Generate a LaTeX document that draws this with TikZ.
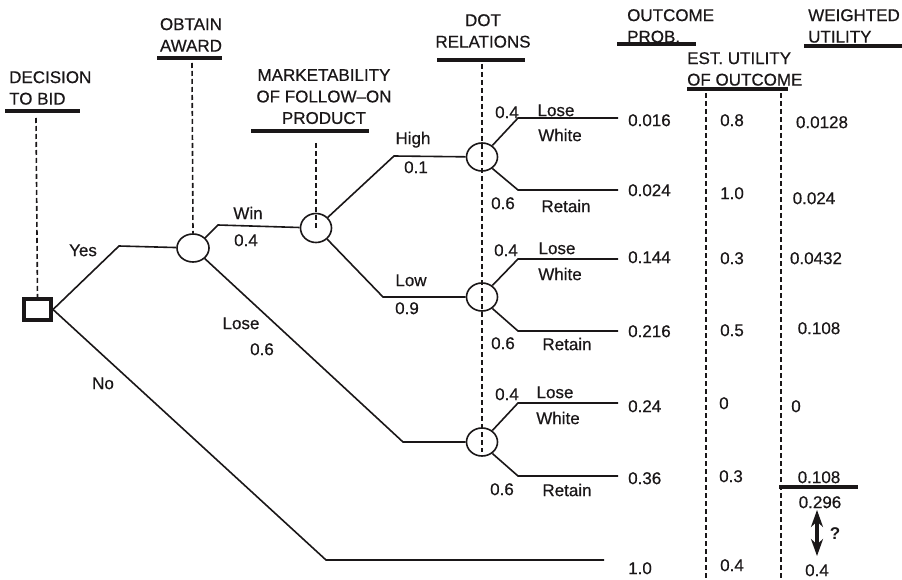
\documentclass[tikz,border=0pt]{standalone}
\usepackage{fontspec}
\setmainfont{Liberation Sans}[UprightFeatures={FakeBold=0.5}]
\usetikzlibrary{arrows.meta,shapes.geometric}
\definecolor{ink}{HTML}{1A1718}

\begin{document}
\begin{tikzpicture}[x=1pt,y=-1pt,
  every node/.style={font=\fontsize{17pt}{21.5pt}\selectfont, text=ink, inner sep=0pt},
  val/.style={text height=12.2pt, text depth=0pt},
  head/.style={anchor=north},
  bar/.style={draw=ink, line width=4.5pt},
  branch/.style={draw=ink, line width=1.6pt},
  guide/.style={draw=ink, line width=1.6pt, dash pattern=on 5pt off 3pt},
  chance/.style={shape=ellipse, draw=ink, line width=1.6pt, minimum width=31pt, minimum height=28pt},
  choice/.style={shape=rectangle, draw=ink, line width=4pt, minimum width=27pt, minimum height=21pt}]

\useasboundingbox (0,0) rectangle (902,580);
\fill[white] (0,0) rectangle (902,580);

% ---------- column headings ----------
\node[head, anchor=north west, align=left] (hdec) at (9,71) {DECISION\\TO BID};
\node[head, align=center] (hawd) at (191,18) {OBTAIN\\AWARD};
\node[head, align=center] (hmkt) at (324,69) {MARKETABILITY\\OF FOLLOW–ON\\PRODUCT};
\node[head, align=center] (hdot) at (483,14) {DOT\\RELATIONS};
\node[head, anchor=north west, align=left] (hprob) at (627,9) {OUTCOME\\PROB.};
\node[head, anchor=north west, align=left] (hest) at (687,52) {EST. UTILITY\\OF OUTCOME};
\node[head, anchor=north west, align=left] (hwu) at (808,9) {WEIGHTED\\UTILITY};

% heading bars
\draw[bar] (5,111) -- (80,111);
\draw[bar] (157,58) -- (222,58);
\draw[bar] (251,131) -- (369,131);
\draw[bar] (437,60) -- (525,60);
\draw[bar] (617,44) -- (696,44);
\draw[bar] (687,89) -- (788,89);
\draw[bar] (804,46) -- (902,46);

% ---------- decision and chance nodes ----------
\node[choice] (sq) at (37.5,309.5) {};
\node[chance, minimum width=32pt] (award) at (193,248) {};
\node[chance, minimum height=29pt] (mkt) at (316,228) {};
\node[chance] (d1) at (482,157) {};
\node[chance] (d2) at (482,297) {};
\node[chance] (d3) at (482,442) {};

% ---------- dashed guide lines ----------
\coordinate (gdec) at (36,118);
\coordinate (gawd) at (192,63);
\coordinate (gmkt) at (316,143);
\coordinate (gdot) at (482,64);
\coordinate (gdotend) at (482,452);
\coordinate (gest) at (706,93);
\coordinate (gestend) at (706,580);
\coordinate (gwu) at (781,93);
\coordinate (gwuend) at (781,580);
\draw[guide] (gdec) -- (sq.north);
\draw[guide] (gawd) -- (award.north);
\draw[guide] (gmkt) -- (mkt.center);
\draw[guide] (gdot) -- (gdotend);
\draw[guide] (gest) -- (gestend);
\draw[guide] (gwu) -- (gwuend);

% ---------- branches ----------
\coordinate (yes) at (119,246);
\coordinate (win) at (218,225);
\coordinate (lose) at (403,442);
\coordinate (no) at (326,560);
\coordinate (noend) at (604,560);
\coordinate (high) at (394,156);
\coordinate (low) at (383,297);

\draw[branch] (sq.east) -- (yes) -- (award);
\draw[branch] (sq.east) -- (no) -- (noend);
\draw[branch] (award.40) -- (win) -- (mkt);
\draw[branch] (award.-42) -- (lose) -- (d3);
\draw[branch] (mkt.42) -- (high) -- (d1);
\draw[branch] (mkt.-45) -- (low) -- (d2);

% DOT relation outcomes
\coordinate (d1a) at (518,118); \coordinate (d1ae) at (618,118);
\coordinate (d1b) at (518,190); \coordinate (d1be) at (618,190);
\coordinate (d2a) at (518,259); \coordinate (d2ae) at (618,259);
\coordinate (d2b) at (518,331); \coordinate (d2be) at (618,331);
\coordinate (d3a) at (518,403); \coordinate (d3ae) at (618,403);
\coordinate (d3b) at (518,476); \coordinate (d3be) at (618,476);
\foreach \d in {d1,d2,d3}{
  \draw[branch] (\d.48) -- (\d a) -- (\d ae);
  \draw[branch] (\d.-48) -- (\d b) -- (\d be);
}

% ---------- branch labels ----------
\node[val] (lyes) at (83,250) {Yes};
\node[val] (lno) at (103,383) {No};
\node[val] (lwin) at (248,213) {Win};
\node[val] (pwin) at (246,240) {0.4};
\node[val] (llose) at (241,323) {Lose};
\node[val] (plose) at (262,349) {0.6};
\node[val] (lhigh) at (413,138) {High};
\node[val] (phigh) at (416,167) {0.1};
\node[val] (llow) at (411,280) {Low};
\node[val] (plow) at (407,308) {0.9};

\node[val] (p1a) at (507,112) {0.4};
\node[val] (l1a) at (556,110) {Lose};
\node[val] (w1a) at (560,135) {White};
\node[val] (p1b) at (503,203) {0.6};
\node[val] (l1b) at (566,206) {Retain};

\node[val] (p2a) at (506,250) {0.4};
\node[val] (l2a) at (557,248) {Lose};
\node[val] (w2a) at (560,274) {White};
\node[val] (p2b) at (503,343) {0.6};
\node[val] (l2b) at (567,344) {Retain};

\node[val] (p3a) at (507,394) {0.4};
\node[val] (l3a) at (555,392) {Lose};
\node[val] (w3a) at (558,418) {White};
\node[val] (p3b) at (502,489) {0.6};
\node[val] (l3b) at (567,490) {Retain};

% ---------- outcome probabilities ----------
\node[val, anchor=west] (op1) at (628,120) {0.016};
\node[val, anchor=west] (op2) at (628,190) {0.024};
\node[val, anchor=west] (op3) at (628,257) {0.144};
\node[val, anchor=west] (op4) at (628,331) {0.216};
\node[val, anchor=west] (op5) at (628,406) {0.24};
\node[val, anchor=west] (op6) at (628,478) {0.36};
\node[val, anchor=west] (op7) at (628,568) {1.0};

% ---------- estimated utilities ----------
\node[val, anchor=west] (eu1) at (720,120) {0.8};
\node[val, anchor=west] (eu2) at (720,193) {1.0};
\node[val, anchor=west] (eu3) at (720,258) {0.3};
\node[val, anchor=west] (eu4) at (720,330) {0.5};
\node[val, anchor=west] (eu5) at (719,403) {0};
\node[val, anchor=west] (eu6) at (719,476) {0.3};
\node[val, anchor=west] (eu7) at (720,565) {0.4};

% ---------- weighted utilities ----------
\node[val] (wu1) at (822,122) {0.0128};
\node[val] (wu2) at (814,198) {0.024};
\node[val] (wu3) at (816,258) {0.0432};
\node[val] (wu4) at (819,328) {0.108};
\node[val] (wu5) at (796,406) {0};
\node[val] (wu6) at (819,477) {0.108};
\draw[bar] (779,487) -- (858,487);
\node[val] (wsum) at (820,502) {0.296};
\node[val] (wno) at (817,570) {0.4};
\coordinate (arrtop) at (817,510);
\coordinate (arrbot) at (817,556);
\draw[draw=ink, line width=3.2pt, {Stealth[length=17pt,width=12pt]}-{Stealth[length=17pt,width=12pt]}]
  (arrtop) -- (arrbot);
\node[val, font=\fontsize{17pt}{21.5pt}\selectfont\bfseries] (q) at (835,533) {?};

\end{tikzpicture}
\end{document}
